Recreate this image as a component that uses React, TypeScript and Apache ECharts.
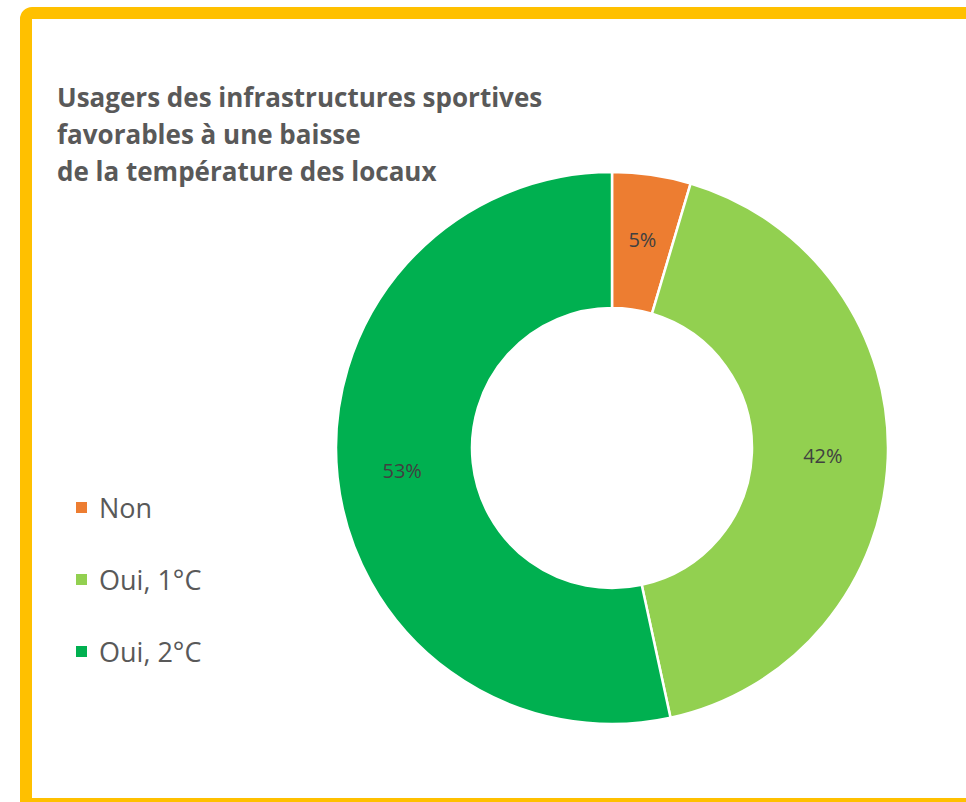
import React, { useEffect, useRef } from "react";
import * as echarts from "echarts";

const categories = ["Non", "Oui, 1°C", "Oui, 2°C"];
const values = [4.6, 42.0, 53.4];
const colors = ["#ED7D31", "#92D050", "#00B050"];
const titleLines = [
  "Usagers des infrastructures sportives",
  "favorables à une baisse",
  "de la température des locaux",
];

export default function App() {
  const ref = useRef<HTMLDivElement>(null);
  useEffect(() => {
    if (!ref.current) return;
    const chart = echarts.init(ref.current, null, { renderer: "svg" });
    chart.setOption({
      animation: false,
      backgroundColor: "#ffffff",
      title: {
        text: titleLines.join("\n"),
        left: 52,
        top: 73,
        textStyle: {
          fontFamily: "Open Sans",
          fontWeight: "bold",
          fontSize: 26,
          color: "#595959",
          lineHeight: 37,
        },
      },
      legend: {
        orient: "vertical",
        left: 69,
        top: 489,
        itemWidth: 13,
        itemHeight: 13,
        itemGap: 45,
        icon: "rect",
        data: categories,
        textStyle: {
          fontFamily: "Open Sans",
          fontSize: 27,
          color: "#595959",
          padding: [0, 0, 0, 6],
        },
      },
      graphic: [
        {
          type: "rect",
          shape: { x: 26, y: 13, width: 1000, height: 791, r: [6, 0, 0, 0] },
          style: { fill: "none", stroke: "#FFC000", lineWidth: 12 },
          silent: true,
        },
      ],
      series: [
        {
          type: "pie",
          center: [612, 448],
          radius: [140, 276],
          startAngle: 90,
          clockwise: true,
          avoidLabelOverlap: false,
          itemStyle: { borderColor: "#ffffff", borderWidth: 2.5 },
          label: {
            show: true,
            position: "inside",
            formatter: (p: any) => Math.round(p.value) + "%",
            fontFamily: "Open Sans",
            fontSize: 20,
            color: "#404040",
          },
          labelLine: { show: false },
          emphasis: { disabled: true },
          data: categories.map((c, i) => ({
            name: c,
            value: values[i],
            itemStyle: { color: colors[i] },
          })),
        },
      ],
    });
    return () => chart.dispose();
  }, []);
  return (
    <div
      ref={ref}
      style={{ position: "fixed", left: 0, top: 0, width: 966, height: 802 }}
    />
  );
}
